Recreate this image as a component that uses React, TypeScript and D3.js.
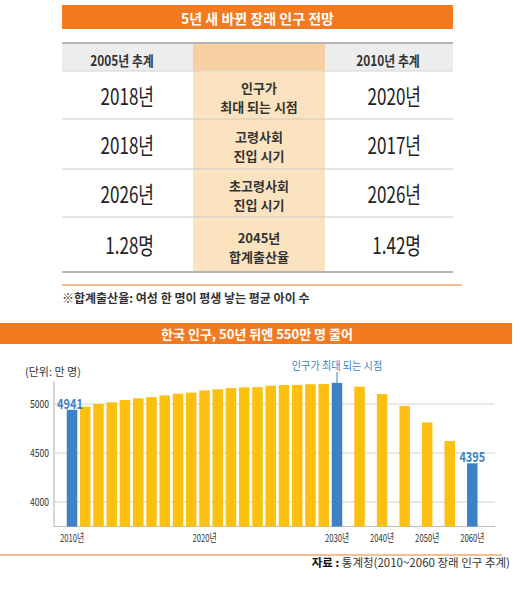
import React from "react";
import * as d3 from "d3";

const FONT = "'Noto Sans CJK KR', 'Noto Sans', sans-serif";

// ---- table data ----
const tableTitle = "5년 새 바뀐 장래 인구 전망";
const colHeaders = ["2005년 추계", "2010년 추계"];
const rowLabels: string[][] = [
  ["인구가", "최대 되는 시점"],
  ["고령사회", "진입 시기"],
  ["초고령사회", "진입 시기"],
  ["2045년", "합계출산율"],
];
const est2005 = ["2018년", "2018년", "2026년", "1.28명"];
const est2010 = ["2020년", "2017년", "2026년", "1.42명"];
const footnote = "※합계출산율: 여성 한 명이 평생 낳는 평균 아이 수";

// ---- chart data ----
const chartTitle = "한국 인구, 50년 뒤엔 550만 명 줄어";
const years = [
  2010, 2011, 2012, 2013, 2014, 2015, 2016, 2017, 2018, 2019, 2020, 2021, 2022,
  2023, 2024, 2025, 2026, 2027, 2028, 2029, 2030, 2035, 2040, 2045, 2050, 2055, 2060,
];
const population = [
  4941, 4973, 5000, 5017, 5041, 5058, 5071, 5088, 5105, 5116, 5138, 5150, 5163,
  5170, 5172, 5187, 5194, 5195, 5201, 5203, 5216, 5177, 5102, 4980, 4812, 4622, 4395,
];
const highlightYears = [2010, 2030, 2060];
const labeledValues = [{ year: 2010, text: "4941" }, { year: 2060, text: "4395" }];
const peakNote = { year: 2030, text: "인구가 최대 되는 시점" };
const yTicks = [4000, 4500, 5000];
const xTickYears = [2010, 2020, 2030, 2040, 2050, 2060];
const unitLabel = "(단위: 만 명)";
const sourceBold = "자료 : ";
const sourceText = "통계청(2010~2060 장래 인구 추계)";

const ORANGE = "#F47A20";
const YELLOW = "#FDC010";
const BLUE = "#3C82C4";

function CText(props: {
  x: number; y: number; sx?: number; anchor?: string; size: number;
  weight?: string | number; fill?: string; children: React.ReactNode;
}) {
  const { x, y, sx = 1, anchor = "middle", size, weight = "normal", fill = "#222", children } = props;
  return (
    <text
      transform={`translate(${x},${y}) scale(${sx},1)`}
      textAnchor={anchor}
      dominantBaseline="central"
      fontFamily={FONT}
      fontSize={size}
      fontWeight={weight}
      fill={fill}
    >
      {children}
    </text>
  );
}

export default function App() {
  // table geometry
  const tLeft = 62, tRight = 453;
  const midL = 193, midR = 325;
  const headTop = 43, headBottom = 71;
  const rowEdges = [71, 119, 169, 217, 272];
  const rowScale = d3.scaleOrdinal<number, number>().domain(d3.range(rowLabels.length)).range(rowEdges);

  // chart scales
  const x = d3.scaleLinear().domain([2010, 2030, 2060]).range([72, 337, 472.3]);
  const y = d3.scaleLinear().domain([4000, 5000]).range([502, 404]);
  const y0 = y(3750);
  const barW = 10.5;
  const axisX = 54;
  const gridRight = 495;

  return (
    <svg width={520} height={602} style={{ position: "absolute", left: 0, top: 0, background: "#fff" }}>
      <rect width={520} height={602} fill="#fff" />

      {/* ---------- table ---------- */}
      <rect x={tLeft} y={5} width={tRight - tLeft} height={24} fill={ORANGE} />
      <CText x={(tLeft + tRight) / 2} y={18} size={14} weight="bold" fill="#fff">{tableTitle}</CText>

      <rect x={tLeft} y={headTop} width={tRight - tLeft} height={headBottom - headTop} fill="#EDEDED" />
      <rect x={midL} y={headTop} width={midR - midL} height={headBottom - headTop} fill="#F6CFA2" />
      <rect x={midL} y={headBottom} width={midR - midL} height={rowEdges[4] - headBottom} fill="#FCE3BF" />
      <line x1={tLeft} x2={tRight} y1={headTop} y2={headTop} stroke="#B4B4B4" strokeWidth={2} />
      <line x1={tLeft} x2={tRight} y1={headBottom} y2={headBottom} stroke="#D4D4D4" strokeWidth={1} />
      <CText x={122} y={60} size={14} weight="bold" sx={0.85} fill="#333">{colHeaders[0]}</CText>
      <CText x={388} y={60} size={14} weight="bold" sx={0.85} fill="#333">{colHeaders[1]}</CText>

      {rowLabels.map((lines, i) => {
        const top = rowScale(i) as number;
        const bottom = rowEdges[i + 1];
        const cy = (top + bottom) / 2;
        return (
          <g key={i}>
            {i < rowLabels.length - 1 && (
              <line x1={tLeft} x2={tRight} y1={bottom} y2={bottom} stroke="#C9C9C9" strokeWidth={1} />
            )}
            <CText x={154} y={cy} anchor="end" size={23} sx={0.74} fill="#222">{est2005[i]}</CText>
            <CText x={421} y={cy} anchor="end" size={23} sx={0.74} fill="#222">{est2010[i]}</CText>
            {lines.map((ln, j) => (
              <CText key={j} x={(midL + midR) / 2} y={cy + 2 + (j - 0.5) * 19} size={13} weight="bold" fill="#333">
                {ln}
              </CText>
            ))}
          </g>
        );
      })}
      <line x1={tLeft} x2={tRight} y1={272} y2={272} stroke="#B4B4B4" strokeWidth={2} />

      <line x1={tLeft} x2={462} y1={285} y2={285} stroke="#F5A868" strokeWidth={1.5} />
      <CText x={tLeft} y={297} anchor="start" size={12} weight="bold" fill="#333">{footnote}</CText>

      {/* ---------- chart ---------- */}
      <rect x={0} y={323} width={512} height={21} fill={ORANGE} />
      <CText x={257} y={333.5} size={13} weight="bold" fill="#fff">{chartTitle}</CText>

      <CText x={25} y={371} anchor="start" size={11} fill="#333">{unitLabel}</CText>

      {yTicks.map((t) => (
        <g key={t}>
          <line x1={axisX} x2={gridRight} y1={y(t)} y2={y(t)} stroke="#D2D2D2" strokeWidth={1} />
          <CText x={49} y={y(t)} anchor="end" size={11} sx={0.78} fill="#333">{t}</CText>
        </g>
      ))}
      <line x1={axisX} x2={axisX} y1={y(5225)} y2={y0} stroke="#AFAFAF" strokeWidth={1} />
      <line x1={axisX} x2={gridRight} y1={y0} y2={y0} stroke="#BDBDBD" strokeWidth={1} />

      {years.map((yr, i) => (
        <rect
          key={yr}
          x={x(yr) - barW / 2}
          y={y(population[i])}
          width={barW}
          height={y0 - y(population[i])}
          fill={highlightYears.includes(yr) ? BLUE : YELLOW}
        />
      ))}

      {labeledValues.map((lv) => {
        const v = population[years.indexOf(lv.year)];
        return (
          <CText key={lv.year} x={x(lv.year) - (lv.year === 2010 ? 2 : 0)} y={y(v) - 7} size={14} weight="bold" sx={0.78} fill={BLUE}>
            {lv.text}
          </CText>
        );
      })}

      {(() => {
        const v = population[years.indexOf(peakNote.year)];
        return (
          <g>
            <line x1={x(peakNote.year)} x2={x(peakNote.year)} y1={372} y2={y(v)} stroke={BLUE} strokeWidth={1} />
            <CText x={x(peakNote.year)} y={365} size={11} sx={0.92} fill={BLUE}>{peakNote.text}</CText>
          </g>
        );
      })()}

      {xTickYears.map((yr) => (
        <CText key={yr} x={x(yr)} y={537} size={11} sx={0.7} fill="#333">{`${yr}년`}</CText>
      ))}

      <line x1={0} x2={502} y1={555} y2={555} stroke="#F5A868" strokeWidth={1.5} />
      <text x={510} y={562} textAnchor="end" dominantBaseline="central" fontFamily={FONT} fontSize={11.5} fill="#333">
        <tspan fontWeight="bold" fill="#111">{sourceBold}</tspan>
        <tspan>{sourceText}</tspan>
      </text>
    </svg>
  );
}
